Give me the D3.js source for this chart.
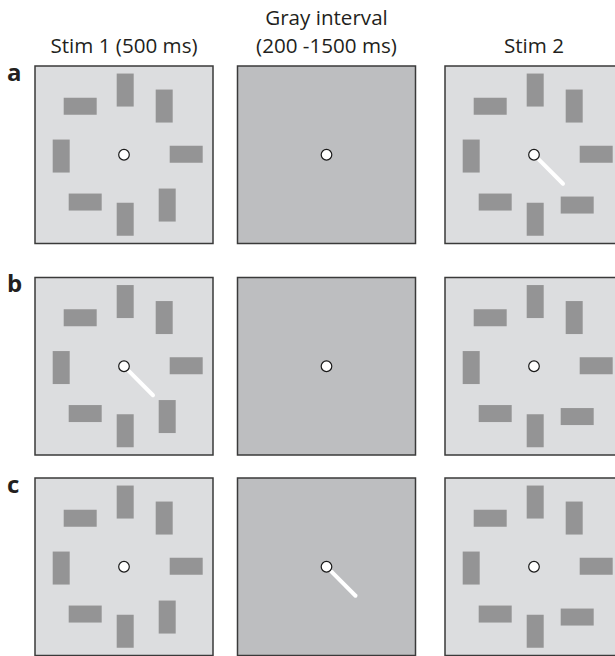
<!DOCTYPE html>
<html>
<head>
<meta charset="utf-8">
<script src="https://cdn.jsdelivr.net/npm/d3@7"></script>
<style>
  html, body { margin: 0; padding: 0; background: #ffffff; }
  svg { display: block; }
</style>
</head>
<body>
<svg id="chart" width="615" height="656"></svg>
<script>
// ---- data ----
const columnTitles = [["Stim 1 (500 ms)"], ["Gray interval", "(200 -1500 ms)"], ["Stim 2"]];
const columnKinds = ["stim", "blank", "stim"];
const rowLabels = ["a", "b", "c"];
// item centres relative to fixation (stimulus units)
const itemX = [1.2, -43.8, 40.2, -62.8, 62.2, -38.8, 1.2, 43.2];
const itemY = [-64.7, -48.5, -48.7, 1.3, -0.5, 47.3, 64.5, 50.3];
const orientStim1 = ["v", "h", "v", "v", "h", "h", "v", "v"];
const orientStim2 = ["v", "h", "v", "v", "h", "h", "v", "h"];
// column (0,1,2) holding the white cue line, per row
const cueColumn = [2, 0, 1];
const cueAngleDeg = 45;
const cueRadii = [7, 41];

// ---- layout ----
const panelW = 178, panelH = 177.5;
const colX = [35, 237.5, 445];
const rowY = [66, 277.5, 478];
const barLong = 33, barShort = 17;
const titleSize = 20.6, titleLine = 28.2;

const svg = d3.select("#chart");
const x = d3.scaleLinear().domain([-89, 89]).range([0, panelW]);
const y = d3.scaleLinear().domain([-88.75, 88.75]).range([0, panelH]);

// column titles
columnTitles.forEach((lines, ci) => {
  const cx = colX[ci] + panelW / 2;
  const n = lines.length;
  lines.forEach((s, li) => {
    svg.append("text")
      .attr("x", cx)
      .attr("y", 53.3 - (n - 1 - li) * titleLine)
      .attr("text-anchor", "middle")
      .attr("font-family", "'Open Sans', sans-serif")
      .attr("font-size", titleSize)
      .attr("fill", "#231f20")
      .text(s);
  });
});

rowLabels.forEach((lab, ri) => {
  svg.append("text")
    .attr("x", 7)
    .attr("y", rowY[ri] + 14.5)
    .attr("font-family", "'Open Sans', sans-serif")
    .attr("font-weight", "bold")
    .attr("font-size", 24)
    .attr("fill", "#231f20")
    .text(lab);

  columnKinds.forEach((kind, ci) => {
    const g = svg.append("g").attr("transform", `translate(${colX[ci]},${rowY[ri]})`);
    g.append("rect")
      .attr("x", 0).attr("y", 0)
      .attr("width", panelW).attr("height", panelH)
      .attr("fill", kind === "stim" ? "#dcdddf" : "#bdbec0")
      .attr("stroke", "#3a3a3a")
      .attr("stroke-width", 1.5);

    if (kind === "stim") {
      const orient = ci === 0 ? orientStim1 : orientStim2;
      const items = itemX.map((vx, i) => ({ cx: vx, cy: itemY[i], o: orient[i] }));
      g.selectAll("rect.item").data(items).join("rect")
        .attr("class", "item")
        .attr("x", d => x(d.cx) - (d.o === "v" ? barShort : barLong) / 2)
        .attr("y", d => y(d.cy) - (d.o === "v" ? barLong : barShort) / 2)
        .attr("width", d => d.o === "v" ? barShort : barLong)
        .attr("height", d => d.o === "v" ? barLong : barShort)
        .attr("fill", "#949495");
    }

    if (cueColumn[ri] === ci) {
      const a = cueAngleDeg * Math.PI / 180;
      g.append("line")
        .attr("x1", x(cueRadii[0] * Math.cos(a)))
        .attr("y1", y(cueRadii[0] * Math.sin(a)))
        .attr("x2", x(cueRadii[1] * Math.cos(a)))
        .attr("y2", y(cueRadii[1] * Math.sin(a)))
        .attr("stroke", "#ffffff")
        .attr("stroke-width", 4)
        .attr("stroke-linecap", "round");
    }

    g.append("circle")
      .attr("cx", x(0)).attr("cy", y(0))
      .attr("r", 5.3)
      .attr("fill", "#ffffff")
      .attr("stroke", "#1a1a1a")
      .attr("stroke-width", 1.2);
  });
});
</script>
</body>
</html>
